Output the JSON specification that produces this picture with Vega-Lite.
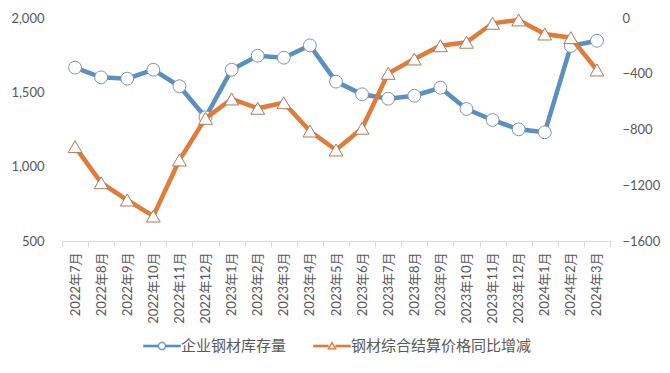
{
  "$schema": "https://vega.github.io/schema/vega-lite/v6.json",
  "width": 548,
  "height": 223,
  "autosize": {"type": "none"},
  "padding": {"left": 62, "top": 18, "right": 60, "bottom": 132},
  "background": "white",
  "config": {"view": {"stroke": null}, "font": "Noto Sans CJK SC"},
  "data": {
    "values": [
      {"month": "2022年7月", "inventory": 1666, "price": -923},
      {"month": "2022年8月", "inventory": 1601, "price": -1182},
      {"month": "2022年9月", "inventory": 1592, "price": -1306},
      {"month": "2022年10月", "inventory": 1652, "price": -1421},
      {"month": "2022年11月", "inventory": 1541, "price": -1019},
      {"month": "2022年12月", "inventory": 1332, "price": -720},
      {"month": "2023年1月", "inventory": 1652, "price": -581},
      {"month": "2023年2月", "inventory": 1746, "price": -648},
      {"month": "2023年3月", "inventory": 1733, "price": -608},
      {"month": "2023年4月", "inventory": 1816, "price": -811},
      {"month": "2023年5月", "inventory": 1572, "price": -947},
      {"month": "2023年6月", "inventory": 1487, "price": -791},
      {"month": "2023年7月", "inventory": 1457, "price": -397},
      {"month": "2023年8月", "inventory": 1477, "price": -294},
      {"month": "2023年9月", "inventory": 1531, "price": -199},
      {"month": "2023年10月", "inventory": 1388, "price": -174},
      {"month": "2023年11月", "inventory": 1314, "price": -38},
      {"month": "2023年12月", "inventory": 1251, "price": -14},
      {"month": "2024年1月", "inventory": 1231, "price": -115},
      {"month": "2024年2月", "inventory": 1812, "price": -141},
      {"month": "2024年3月", "inventory": 1847, "price": -373}
    ]
  },
  "encoding": {
    "x": {
      "field": "month",
      "type": "ordinal",
      "sort": null,
      "scale": {"type": "band", "paddingInner": 0, "paddingOuter": 0},
      "axis": {
        "title": null,
        "labelAngle": -90,
        "labelFontSize": 13,
        "labelFont": "Lato, Noto Sans CJK SC",
        "labelColor": "#595959",
        "domainColor": "#d9d9d9",
        "tickColor": "#d9d9d9",
        "tickSize": 6,
        "tickBand": "extent",
        "labelPadding": 5,
        "grid": false
      }
    }
  },
  "layer": [
    {
      "mark": {
        "type": "line",
        "strokeWidth": 4.5,
        "point": {"filled": true, "fill": "white", "size": 165, "stroke": "#7d95aa", "strokeWidth": 1}
      },
      "encoding": {
        "y": {
          "field": "inventory",
          "type": "quantitative",
          "scale": {"domain": [500, 2000], "nice": false, "zero": false},
          "axis": {
            "orient": "left",
            "title": null,
            "domain": false,
            "ticks": false,
            "grid": false,
            "values": [500, 1000, 1500, 2000],
            "format": ",d",
            "labelPadding": 18,
            "labelFontSize": 13,
            "labelFont": "Lato",
            "labelColor": "#595959"
          }
        },
        "color": {
          "datum": "企业钢材库存量",
          "scale": {"range": ["#5b8fc0"]},
          "legend": {
            "orient": "none",
            "legendX": 81,
            "legendY": 309,
            "title": null,
            "padding": 0,
            "symbolType": "M-1,-0.06H-0.22V0.06H-1Z M0.22,-0.06H1V0.06H0.22Z M0.22,0A0.22,0.22,0,1,0,-0.22,0A0.22,0.22,0,1,0,0.22,0Z M0.17,0A0.17,0.17,0,1,1,-0.17,0A0.17,0.17,0,1,1,0.17,0Z",
            "symbolSize": 1369,
            "symbolStrokeWidth": 0.5,
            "labelFontSize": 15,
            "labelColor": "#595959",
            "labelOffset": 0,
            "labelLimit": 400
          }
        }
      }
    },
    {
      "mark": {
        "type": "line",
        "strokeWidth": 4.5,
        "point": {"filled": true, "fill": "white", "shape": "triangle-up", "size": 190, "stroke": "#a87c5c", "strokeWidth": 1}
      },
      "encoding": {
        "y": {
          "field": "price",
          "type": "quantitative",
          "scale": {"domain": [-1600, 0], "nice": false, "zero": false},
          "axis": {
            "orient": "right",
            "title": null,
            "domain": false,
            "ticks": false,
            "grid": false,
            "values": [-1600, -1200, -800, -400, 0],
            "format": "d",
            "labelPadding": 12,
            "labelFontSize": 13,
            "labelFont": "Lato",
            "labelColor": "#595959"
          }
        },
        "color": {
          "datum": "钢材综合结算价格同比增减",
          "scale": {"range": ["#e07b39"]},
          "legend": {
            "orient": "none",
            "legendX": 251,
            "legendY": 309,
            "title": null,
            "padding": 0,
            "symbolType": "M-1,-0.06H-0.2V0.06H-1Z M0.2,-0.06H1V0.06H0.2Z M0,-0.24L0.24,0.18L-0.24,0.18Z M0,-0.13L-0.15,0.13L0.15,0.13Z",
            "symbolSize": 1369,
            "symbolStrokeWidth": 0.5,
            "labelFontSize": 15,
            "labelColor": "#595959",
            "labelOffset": 0,
            "labelLimit": 400
          }
        }
      }
    }
  ],
  "resolve": {"scale": {"y": "independent", "color": "independent"}}
}
